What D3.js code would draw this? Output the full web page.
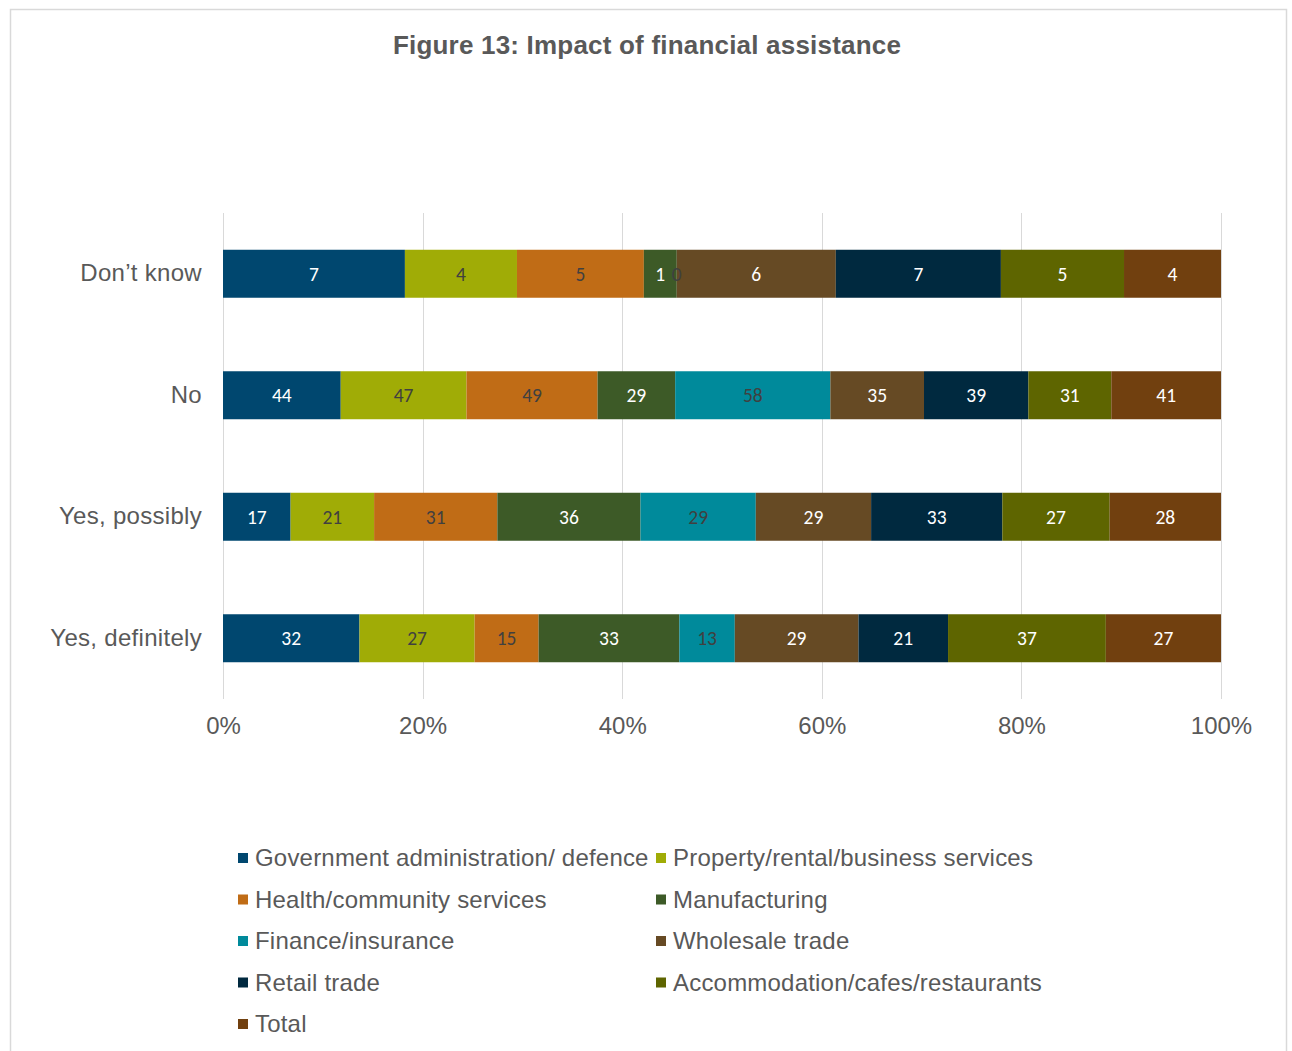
<!DOCTYPE html>
<html><head><meta charset="utf-8">
<script src="https://cdn.jsdelivr.net/npm/d3@7"></script>
<style>
html,body{margin:0;padding:0;background:#fff;}
svg{display:block;}
</style></head>
<body>
<svg id="chart" width="1292" height="1051"></svg>
<script>
const title = "Figure 13: Impact of financial assistance";
const categories = ["Don’t know", "No", "Yes, possibly", "Yes, definitely"];
const seriesNames = ["Government administration/ defence", "Property/rental/business services",
  "Health/community services", "Manufacturing", "Finance/insurance", "Wholesale trade",
  "Retail trade", "Accommodation/cafes/restaurants", "Total"];
// values per series, in category order
const govAdmin      = [7.24, 44, 17, 32];
const property      = [4.46, 47, 21, 27];
const health        = [5.05, 49, 31, 15];
const manufacturing = [1.31, 29, 36, 33];
const finance       = [0,    58, 29, 13];
const wholesale     = [6.33, 35, 29, 29];
const retail        = [6.57, 39, 33, 21];
const accommodation = [4.90, 31, 27, 37];
const total         = [3.86, 41, 28, 27];
const seriesValues = [govAdmin, property, health, manufacturing, finance, wholesale, retail, accommodation, total];
const colors = ["#00476F", "#A0AC06", "#C06C16", "#3D5A27", "#008A9B", "#664A24", "#00293F", "#5E6500", "#71400F"];
const labelColors = ["#ffffff", "#404040", "#404040", "#ffffff", "#404040", "#ffffff", "#ffffff", "#ffffff", "#ffffff"];
const tickValues = [0, 0.2, 0.4, 0.6, 0.8, 1.0];

const svg = d3.select("#chart");
const textColor = "#595959";
const fontMain = "'Liberation Sans', Arial, sans-serif";
const fontLabel = "Carlito, Calibri, Lato, 'Open Sans', sans-serif";

// outer frame
svg.append("rect").attr("x", 10.5).attr("y", 9.5).attr("width", 1276).attr("height", 1060)
  .attr("fill", "none").attr("stroke", "#d9d9d9").attr("stroke-width", 1.5);

svg.append("text").attr("x", 647).attr("y", 54).attr("text-anchor", "middle")
  .attr("font-family", fontMain).attr("font-weight", "bold").attr("font-size", 26)
  .attr("letter-spacing", "0.2")
  .attr("fill", textColor).text(title);

const plot = {left: 223, right: 1221, top: 213, bottom: 699};

const rows = categories.map((c, i) => {
  const o = {category: c};
  seriesNames.forEach((s, j) => o[s] = seriesValues[j][i]);
  return o;
});
const stack = d3.stack().keys(seriesNames).offset(d3.stackOffsetExpand);
const stacked = stack(rows);

const x = d3.scaleLinear().domain([0, 1]).range([plot.left, plot.right]);
const y = d3.scaleBand().domain(categories).range([plot.top, plot.bottom]).paddingInner(0.605).paddingOuter(0.3025);

// gridlines
svg.append("g").selectAll("line").data(tickValues).join("line")
  .attr("x1", d => Math.round(x(d)) + 0.5).attr("x2", d => Math.round(x(d)) + 0.5)
  .attr("y1", plot.top).attr("y2", plot.bottom)
  .attr("stroke", "#d9d9d9").attr("stroke-width", 1);

// bars
const groups = svg.append("g").selectAll("g").data(stacked).join("g")
  .attr("fill", (d, i) => colors[i]);
groups.selectAll("rect").data(d => d).join("rect")
  .attr("x", d => x(d[0])).attr("width", d => Math.max(0, x(d[1]) - x(d[0])))
  .attr("y", d => y(d.data.category)).attr("height", y.bandwidth());

// labels
const fmt = d3.format(".0f");
stacked.forEach((s, i) => {
  svg.append("g").selectAll("text").data(s).join("text")
    .attr("x", d => (x(d[0]) + x(d[1])) / 2)
    .attr("y", d => y(d.data.category) + y.bandwidth() / 2)
    .attr("dy", "0.35em").attr("text-anchor", "middle")
    .attr("font-family", fontLabel).attr("font-size", 19.5)
    .attr("fill", labelColors[i])
    .text(d => fmt(d.data[s.key]));
});

// x axis
const xAxis = d3.axisBottom(x).tickValues(tickValues).tickFormat(d3.format(".0%")).tickSize(0).tickPadding(18);
const gx = svg.append("g").attr("transform", `translate(0,${plot.bottom})`).call(xAxis);
gx.select(".domain").remove();
gx.selectAll("text").attr("font-family", fontMain).attr("font-size", 24).attr("fill", textColor);

// y axis
const yAxis = d3.axisLeft(y).tickSize(0).tickPadding(21);
const gy = svg.append("g").attr("transform", `translate(${plot.left},0)`).call(yAxis);
gy.select(".domain").remove();
gy.selectAll("text").attr("font-family", fontMain).attr("font-size", 24).attr("fill", textColor)
  .attr("letter-spacing", "0.3");

// legend
const legend = svg.append("g");
seriesNames.forEach((s, i) => {
  const col = i % 2, row = Math.floor(i / 2);
  const lx = col === 0 ? 238 : 656;
  const ly = 858 + row * 41.5;
  const g = legend.append("g").attr("transform", `translate(${lx},${ly})`);
  g.append("rect").attr("x", 0).attr("y", -5).attr("width", 10).attr("height", 10).attr("fill", colors[i]);
  g.append("text").attr("x", 17).attr("y", 0).attr("dy", "0.35em")
    .attr("font-family", fontMain).attr("font-size", 24).attr("fill", textColor)
    .attr("letter-spacing", "0.2").text(s);
});
</script>
</body></html>
